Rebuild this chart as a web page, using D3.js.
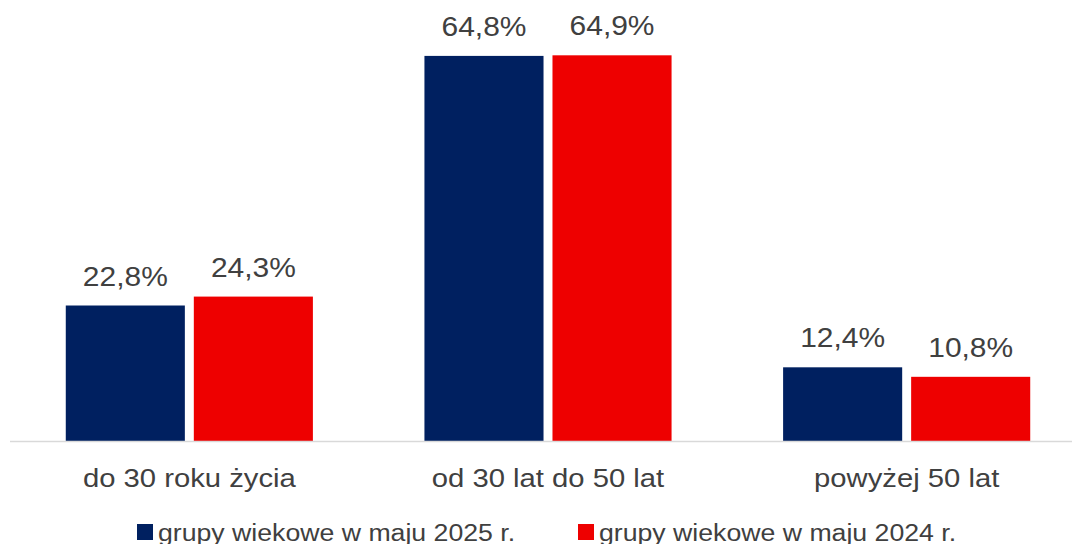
<!DOCTYPE html>
<html>
<head>
<meta charset="utf-8">
<script src="https://cdn.jsdelivr.net/npm/d3@7"></script>
<style>
  body { margin: 0; background: #fff; }
  svg { display: block; font-family: "Liberation Sans", Arial, sans-serif; }
</style>
</head>
<body>
<svg width="1072" height="544"></svg>
<script>
const categories = ["do 30 roku życia", "od 30 lat do 50 lat", "powyżej 50 lat"];
const seriesNames = ["grupy wiekowe w maju 2025 r.", "grupy wiekowe w maju 2024 r."];
const values2025 = [22.8, 64.8, 12.4];
const values2024 = [24.3, 64.9, 10.8];
const colors = ["#002060", "#ee0000"];

const svg = d3.select("svg");
const textColor = "#404040";
const fmt = (v) => v.toFixed(1).replace(".", ",") + "%";

const data = categories.map((c, i) => ({
  cat: c,
  vals: [values2025[i], values2024[i]]
}));

const x0 = d3.scaleBand().domain(categories).range([10, 1086]).paddingInner(0.311).paddingOuter(0.1555);
const x1 = d3.scaleBand().domain([0, 1]).range([0, x0.bandwidth()]).paddingInner(0.07);
const y = d3.scaleLinear().domain([0, 70]).range([441, 25]);

// bars
const groups = svg.selectAll(".grp")
  .data(data)
  .enter()
  .append("g")
  .attr("class", "grp")
  .attr("transform", (d) => `translate(${x0(d.cat)},0)`);

groups.selectAll("rect")
  .data((d) => d.vals.map((v, i) => ({ v, i })))
  .enter()
  .append("rect")
  .attr("x", (d) => x1(d.i))
  .attr("y", (d) => y(d.v))
  .attr("width", x1.bandwidth())
  .attr("height", (d) => y(0) - y(d.v))
  .attr("fill", (d) => colors[d.i]);

// value labels
groups.selectAll(".val")
  .data((d) => d.vals.map((v, i) => ({ v, i })))
  .enter()
  .append("text")
  .attr("class", "val")
  .attr("transform", (d) => `translate(${x1(d.i) + x1.bandwidth() / 2},${y(d.v) - 20}) scale(1.11,1)`)
  .attr("text-anchor", "middle")
  .attr("font-size", 27)
  .attr("fill", textColor)
  .text((d) => fmt(d.v));

// baseline
svg.append("line")
  .attr("x1", 10)
  .attr("x2", 1072)
  .attr("y1", y(0) + 0.5)
  .attr("y2", y(0) + 0.5)
  .attr("stroke", "#d9d9d9")
  .attr("stroke-width", 1.5);

// category axis
const xAxis = d3.axisBottom(x0).tickSize(0).tickPadding(0);
const ax = svg.append("g").attr("transform", `translate(0,${y(0)})`).call(xAxis);
ax.select(".domain").remove();
ax.selectAll("text")
  .attr("y", null)
  .attr("dy", null)
  .attr("transform", "translate(0,46) scale(1.17,1)")
  .attr("font-size", 25)
  .attr("font-family", "Liberation Sans, Arial, sans-serif")
  .attr("fill", textColor);

// legend
const legendX = [137, 578];
const legend = svg.selectAll(".leg")
  .data(seriesNames)
  .enter()
  .append("g")
  .attr("class", "leg")
  .attr("transform", (d, i) => `translate(${legendX[i]},524)`);

legend.append("rect")
  .attr("width", 16)
  .attr("height", 16)
  .attr("fill", (d, i) => colors[i]);

legend.append("text")
  .attr("transform", "translate(21,17) scale(1.16,1)")
  .attr("font-size", 23)
  .attr("fill", textColor)
  .text((d) => d);
</script>
</body>
</html>
